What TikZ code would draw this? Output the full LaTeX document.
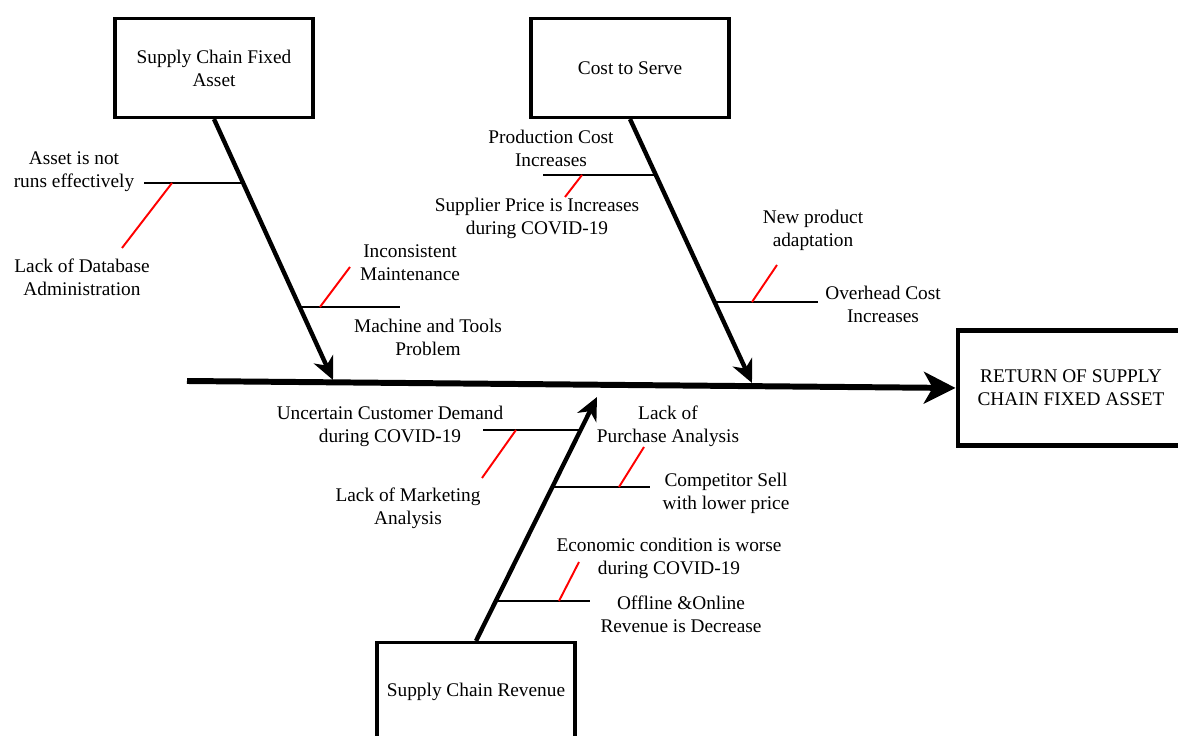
\documentclass[tikz,border=0pt]{standalone}
\usepackage{fontspec}
\setmainfont{Liberation Serif}
\usetikzlibrary{arrows.meta,positioning,calc}

\begin{document}
\begin{tikzpicture}[x=0.02cm, y=-0.02cm,
    cause/.style={rectangle, draw=black, line width=1.8pt, minimum width=3.96cm, minimum height=1.98cm, align=center, fill=white, font=\fontsize{11}{13}\selectfont},
    effect/.style={rectangle, draw=black, line width=2.8pt, minimum width=4.52cm, minimum height=2.3cm, align=center, fill=white, font=\fontsize{11}{13}\selectfont},
    why/.style={align=center, inner sep=1pt, font=\fontsize{11}{13}\selectfont},
    bone/.style={-{Stealth[length=13pt, width=12pt, inset=4pt]}, line width=2.5pt},
    spine/.style={-{Stealth[length=18pt, width=18pt, inset=5pt]}, line width=3.4pt},
    branch/.style={line width=1.3pt},
    subline/.style={red, line width=1.1pt}]

\useasboundingbox (0,0) rectangle (1178,736);
\clip (0,0) rectangle (1178,736);

% Cause boxes and effect box
\node[cause] (asset) at (214, 68) {Supply Chain Fixed\\Asset};
\node[cause] (cost) at (630, 68) {Cost to Serve};
\node[cause] (revenue) at (476, 692) {Supply Chain Revenue};
\node[effect] (return) at (1071, 388) {RETURN OF SUPPLY\\CHAIN FIXED ASSET};

% Spine
\coordinate (tail) at (187, 381);
\draw[spine] (tail) -- (return.west);

% Bones ending on the spine
\coordinate (tipA) at (333, 380);
\coordinate (tipC) at (752, 383);
\coordinate (tipR) at (597, 397);
\draw[bone] (asset.south) -- (tipA);
\draw[bone] (cost.south) -- (tipC);
\draw[bone] (revenue.north) -- (tipR);

% Supply Chain Fixed Asset: branches
\coordinate (jA1) at (243, 183);  \coordinate (eA1) at (144, 183);
\coordinate (jA2) at (300, 307);  \coordinate (eA2) at (400, 307);
\draw[branch] (jA1) -- (eA1);
\draw[branch] (jA2) -- (eA2);
\coordinate (rA1) at (172, 183);  \coordinate (sA1) at (122, 248);
\coordinate (rA2) at (320, 307);  \coordinate (sA2) at (350, 267);
\draw[subline] (rA1) -- (sA1);
\draw[subline] (rA2) -- (sA2);

\node[why] (notrun) at (74, 172) {Asset is not\\runs effectively};
\node[why] (database) at (82, 277) {Lack of Database\\Administration};
\node[why] (maint) at (410, 263) {Inconsistent\\Maintenance};
\node[why] (tools) at (428, 337) {Machine and Tools\\Problem};

% Cost to Serve: branches
\coordinate (jC1) at (656, 175);  \coordinate (eC1) at (543, 175);
\coordinate (jC2) at (715, 302);  \coordinate (eC2) at (818, 302);
\draw[branch] (jC1) -- (eC1);
\draw[branch] (jC2) -- (eC2);
\coordinate (rC1) at (582, 175);  \coordinate (sC1) at (565, 197);
\coordinate (rC2) at (752, 302);  \coordinate (sC2) at (777, 265);
\draw[subline] (rC1) -- (sC1);
\draw[subline] (rC2) -- (sC2);

\node[why] (prodcost) at (551, 148) {Production Cost\\Increases};
\node[why] (supplier) at (537, 218) {Supplier Price is Increases\\during COVID-19};
\node[why] (newprod) at (813, 230) {New product\\adaptation};
\node[why] (overhead) at (883, 304) {Overhead Cost\\Increases};

% Supply Chain Revenue: branches
\coordinate (jR1) at (581, 430);  \coordinate (eR1) at (483, 430);
\coordinate (jR2) at (553, 487);  \coordinate (eR2) at (650, 487);
\coordinate (jR3) at (496, 601);  \coordinate (eR3) at (590, 601);
\draw[branch] (jR1) -- (eR1);
\draw[branch] (jR2) -- (eR2);
\draw[branch] (jR3) -- (eR3);
\coordinate (rR1) at (516, 430);  \coordinate (sR1) at (482, 478);
\coordinate (rR2) at (619, 487);  \coordinate (sR2) at (644, 447);
\coordinate (rR3) at (559, 601);  \coordinate (sR3) at (579, 562);
\draw[subline] (rR1) -- (sR1);
\draw[subline] (rR2) -- (sR2);
\draw[subline] (rR3) -- (sR3);

\node[why] (demand) at (390, 426) {Uncertain Customer Demand\\during COVID-19};
\node[why] (marketing) at (408, 508) {Lack of Marketing\\Analysis};
\node[why] (purchase) at (668, 426) {Lack of\\Purchase Analysis};
\node[why] (competitor) at (726, 493) {Competitor Sell\\with lower price};
\node[why] (economic) at (669, 558) {Economic condition is worse\\during COVID-19};
\node[why] (offline) at (681, 614) {Offline \&Online\\Revenue is Decrease};

\end{tikzpicture}
\end{document}
